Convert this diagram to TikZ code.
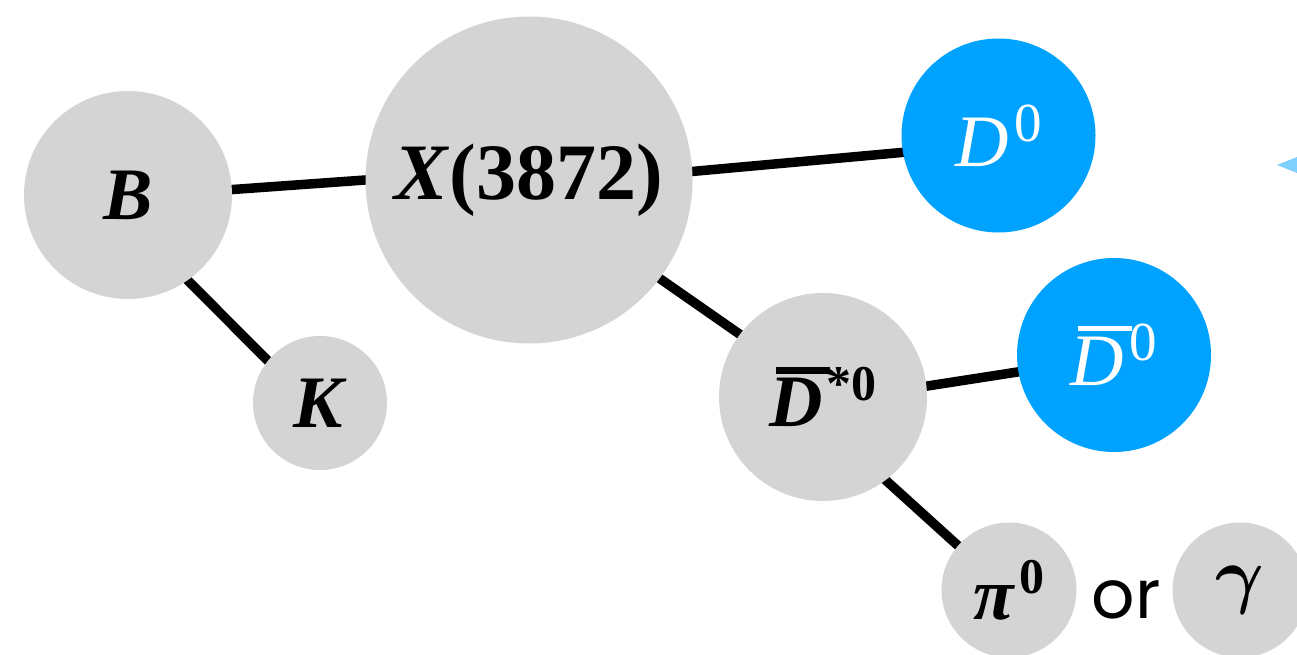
\documentclass[tikz,border=0pt]{standalone}
\usepackage{fontspec}
\setmainfont{Liberation Serif}
\newfontfamily\orfont{Poppins}

\definecolor{ballgray}{RGB}{212,212,212}
\definecolor{ballblue}{RGB}{0,162,255}
\definecolor{tipblue}{RGB}{128,208,255}

% barred letter: #1 = raise of the bar, #2 = bar thickness, #3 = letter
\newcommand\ovD[3]{\leavevmode\rlap{\kern0.095em\rule[#1]{0.73em}{#2}}#3}
\newcommand\bigtxt{\fontsize{74}{74}\selectfont}
\newcommand\suptxt{\fontsize{50}{50}\selectfont}
% math gamma, set at a standard size and enlarged
\newcommand\biggamma{\raisebox{-6pt}{\scalebox{3}{\fontsize{24.88}{26}\selectfont\boldmath$\gamma$}}}

\pgfdeclarelayer{links}
\pgfsetlayers{links,main}

\tikzset{
  ball/.style={circle, fill=ballgray, draw=none, inner sep=0pt,
               minimum size=#1, font=\bigtxt},
  blueball/.style={ball=#1, fill=ballblue, text=white},
  link/.style={line width=9.5pt, black, shorten <=-4pt, shorten >=-4pt},
}

\begin{document}
\begin{tikzpicture}[x=1pt,y=-1pt]
  \useasboundingbox (0,0) rectangle (1297,655);
  \clip (0,0) rectangle (1297,655);

  % particles
  \node[ball=208] (B)  at (128,195) {\textbf{\textit{B}}};
  \node[ball=134] (K)  at (320,403) {\textbf{\textit{K}}};
  \node[ball=327, font=\fontsize{80}{80}\selectfont] (X) at (529,180)
       {\textbf{\textit{X}(3872)}};
  \node[blueball=194] (D0) at (998.5,135.5)
       {\textit{D}\kern6pt\raisebox{25pt}{\fontsize{55}{55}\selectfont 0}};
  \node[ball=208] (Ds) at (823,397)
       {\textbf{\ovD{53pt}{7pt}{\textit{D}}\kern4pt\raisebox{26pt}{\suptxt *0}}};
  \node[blueball=194] (Db) at (1114,355)
       {\ovD{55pt}{5pt}{\textit{D}}\kern6pt\raisebox{25pt}{\fontsize{55}{55}\selectfont 0}};
  \node[ball=135] (pi) at (1009,590)
       {\textbf{\textit{π}\kern4pt\raisebox{26pt}{\suptxt 0}}};
  \node[font=\orfont\fontsize{68}{68}\selectfont] (or) at (1126,600) {or};
  \node[ball=135] (ga) at (1240,590) {\biggamma};

  % pointer at the right margin
  \fill[tipblue] (1277,165) -- (1300,155.8) -- (1300,174.2) -- cycle;

  % decay links, drawn underneath the particles
  \begin{pgfonlayer}{links}
    \draw[link] (B.3)    -- (X.180);
    \draw[link] (B.-55)  -- (K.141);
    \draw[link] (X.3)    -- (D0.-170);
    \draw[link] (X.-37)  -- (Ds.143);
    \draw[link] (Ds.6)   -- (Db.-170);
    \draw[link] (Ds.-53) -- (pi.139);
  \end{pgfonlayer}
\end{tikzpicture}
\end{document}
